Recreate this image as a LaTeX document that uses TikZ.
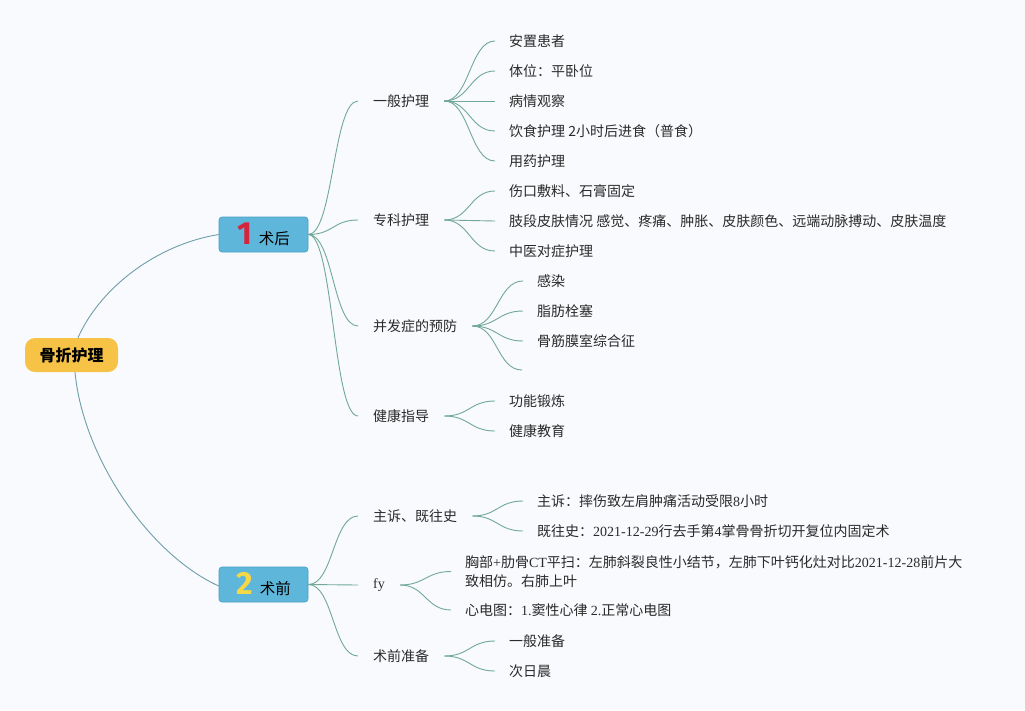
\documentclass[tikz,border=0pt]{standalone}
\usepackage{fontspec}
\setmainfont{Noto Sans CJK SC}
\newfontfamily\lat{Liberation Serif}
\newfontfamily\numf{Fira Sans}
\definecolor{bgc}{HTML}{F8FAFD}
\definecolor{txt}{HTML}{2A2A2A}
\definecolor{lc}{HTML}{72A898}
\definecolor{rlc}{HTML}{6F9EAA}
\definecolor{rootfill}{HTML}{F6C347}
\definecolor{boxfill}{HTML}{5EB7DA}
\definecolor{boxdraw}{HTML}{4A9FC4}
\definecolor{numred}{HTML}{D5243B}
\definecolor{numyel}{HTML}{F6D846}
\begin{document}
\begin{tikzpicture}[x=1pt,y=-1pt,
  rootbox/.style={fill=rootfill,rounded corners=10pt,minimum width=93pt,minimum height=34pt,inner sep=0pt,font=\bfseries\fontsize{16}{18}\selectfont,text=black},
  lonebox/.style={fill=boxfill,draw=boxdraw,line width=0.6pt,rounded corners=3pt,minimum width=89pt,minimum height=35pt,inner sep=0pt,text=black},
  topic/.style={anchor=west,inner sep=0pt,font=\fontsize{14}{19}\selectfont,text=txt},
  br/.style={draw=lc,line width=0.9pt},
  rbr/.style={draw=rlc,line width=0.9pt},
  hcurve/.style={to path={.. controls +(#1,0) and +(-#1,0) .. (\tikztotarget)}},
  hcurve/.default=25
]
\path[use as bounding box,fill=bgc] (0,0) rectangle (1025,710);

% root and level 1
\node[rootbox] (root) at (71.5,355) {骨折护理};
\node[lonebox] (t1) at (263.5,234.5) {{\numf\bfseries\fontsize{32}{32}\selectfont\color{numred}1}\hspace{7pt}{\fontsize{15.5}{18}\selectfont 术后}};
\node[lonebox] (t2) at (263.5,584.5) {{\numf\bfseries\fontsize{32}{32}\selectfont\color{numyel}2}\hspace{7pt}{\fontsize{15.5}{18}\selectfont 术前}};

\draw[rbr] ([xshift=6.5pt]root.north) .. controls +(22,-50) and +(-62,10) .. (t1.west);
\draw[rbr] ([xshift=3.5pt]root.south) .. controls +(8,85) and +(-70,-32) .. ([yshift=-1.5pt]t2.west);

% level 2 under 术后
\node[topic] (a1) at (373,101) {一般护理};
\node[topic] (a2) at (373,220) {专科护理};
\node[topic] (a3) at (373,326) {并发症的预防};
\node[topic] (a4) at (373,416) {健康指导};
\foreach \n in {a1,a2,a3,a4}
  \draw[br] (t1.east) to[hcurve] ([xshift=-15pt]\n.west);

% leaves of 一般护理
\node[topic] (l11) at (509,41) {安置患者};
\node[topic] (l12) at (509,71) {体位：平卧位};
\node[topic] (l13) at (509,101) {病情观察};
\node[topic] (l14) at (509,131) {饮食护理 2小时后进食（普食）};
\node[topic] (l15) at (509,161) {用药护理};
\foreach \n in {l11,l12,l13,l14,l15}
  \draw[br] ([xshift=15pt]a1.east) to[hcurve] ([xshift=-14pt]\n.west);

% leaves of 专科护理
\node[topic] (l21) at (509,191) {伤口敷料、石膏固定};
\node[topic] (l22) at (509,221) {肢段皮肤情况 感觉、疼痛、肿胀、皮肤颜色、远端动脉搏动、皮肤温度};
\node[topic] (l23) at (509,251) {中医对症护理};
\foreach \n in {l21,l22,l23}
  \draw[br] ([xshift=15pt]a2.east) to[hcurve] ([xshift=-14pt]\n.west);

% leaves of 并发症的预防
\node[topic] (l31) at (537,281) {感染};
\node[topic] (l32) at (537,311) {脂肪栓塞};
\node[topic] (l33) at (537,341) {骨筋膜室综合征};
\coordinate (l34) at (522,370);
\foreach \n in {l31,l32,l33}
  \draw[br] ([xshift=15pt]a3.east) to[hcurve] ([xshift=-14pt]\n.west);
\draw[br] ([xshift=15pt]a3.east) to[hcurve] (l34);

% leaves of 健康指导
\node[topic] (l41) at (509,401) {功能锻炼};
\node[topic] (l42) at (509,431) {健康教育};
\foreach \n in {l41,l42}
  \draw[br] ([xshift=15pt]a4.east) to[hcurve] ([xshift=-14pt]\n.west);

% level 2 under 术前
\node[topic] (b1) at (373,516) {主诉、既往史};
\node[topic] (b2) at (373,585) {{\lat fy}};
\node[topic] (b3) at (373,656) {术前准备};
\foreach \n in {b1,b2,b3}
  \draw[br] (t2.east) to[hcurve] ([xshift=-15pt]\n.west);

\node[topic] (m11) at (537,501) {主诉：摔伤致左肩肿痛活动受限{\lat 8}小时};
\node[topic] (m12) at (537,531) {既往史：{\lat 2021-12-29}行去手第{\lat 4}掌骨骨折切开复位内固定术};
\foreach \n in {m11,m12}
  \draw[br] ([xshift=15pt]b1.east) to[hcurve] ([xshift=-14pt]\n.west);

\node[topic,align=left] (m21) at (465,571.5) {胸部{\lat +}肋骨{\lat CT}平扫：左肺斜裂良性小结节，左肺下叶钙化灶对比{\lat 2021-12-28}前片大\\致相仿。右肺上叶};
\node[topic] (m22) at (465,610) {心电图：{\lat 1.}窦性心律 {\lat 2.}正常心电图};
\foreach \n in {m21,m22}
  \draw[br] ([xshift=15pt]b2.east) to[hcurve] ([xshift=-14pt]\n.west);

\node[topic] (m31) at (509,641) {一般准备};
\node[topic] (m32) at (509,671) {次日晨};
\foreach \n in {m31,m32}
  \draw[br] ([xshift=15pt]b3.east) to[hcurve] ([xshift=-14pt]\n.west);
\end{tikzpicture}
\end{document}
